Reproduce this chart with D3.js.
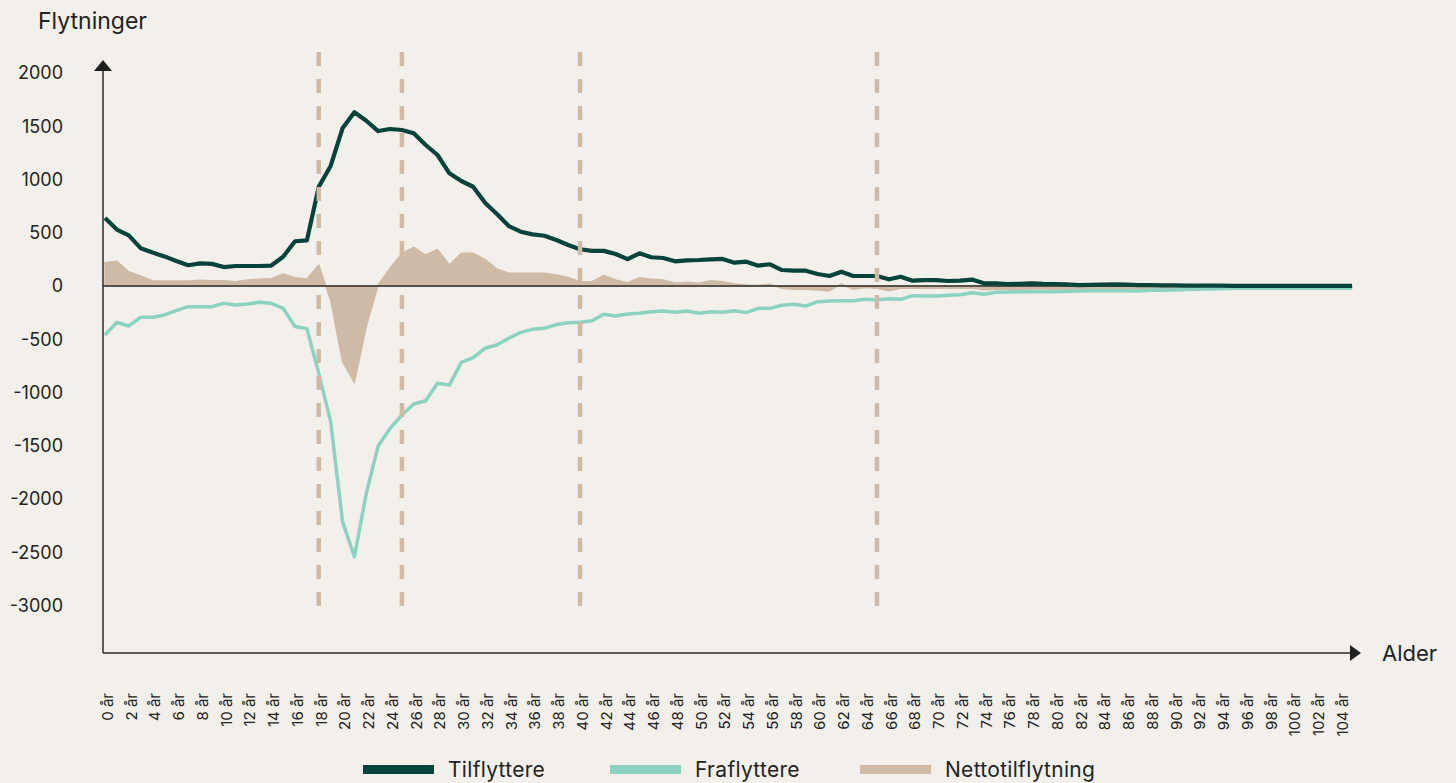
<!DOCTYPE html>
<html>
<head>
<meta charset="utf-8">
<script src="https://cdn.jsdelivr.net/npm/d3@7"></script>
<style>
  html, body { margin: 0; padding: 0; background: #f3f0eb; }
  svg { display: block; }
  text { font-family: Inter, "Noto Sans", sans-serif; fill: #222; }
</style>
</head>
<body>
<div id="chart"></div>
<script>
// ages 0..105
var tilflyttere = [
  638, 530, 475, 355, 315, 278, 235, 195, 212, 208,
  178, 188, 188, 188, 192, 275, 420, 428, 932, 1127,
  1481, 1631, 1552, 1455, 1474, 1465, 1434, 1324, 1230, 1058,
  986, 932, 782, 676, 563, 510, 485, 472, 432, 385,
  345, 330, 330, 300, 252, 307, 270, 263, 232, 241,
  244, 250, 254, 219, 228, 191, 204, 150, 144, 144,
  113, 94, 134, 94, 94, 94, 63, 87, 50, 56,
  56, 47, 50, 60, 25, 25, 18, 20, 25, 20,
  19, 15, 9, 10, 12, 16, 12, 9, 8, 6,
  5, 4, 4, 3, 3, 2, 2, 2, 2, 1,
  1, 1, 1, 1, 1, 1
];

var fraflyttere = [
  -460, -341, -376, -294, -294, -272, -232, -194, -194, -194,
  -163, -178, -169, -153, -163, -210, -380, -400, -820, -1274,
  -2213, -2542, -1947, -1502, -1337, -1211, -1108, -1077, -914, -930,
  -717, -673, -585, -554, -491, -435, -407, -397, -362, -345,
  -340, -326, -266, -282, -263, -256, -241, -235, -247, -235,
  -256, -241, -247, -232, -250, -210, -210, -181, -172, -188,
  -147, -141, -138, -138, -125, -131, -119, -125, -91, -94,
  -94, -87, -82, -63, -78, -59, -56, -55, -53, -53,
  -53, -50, -47, -45, -45, -44, -44, -47, -40, -40,
  -38, -33, -30, -28, -25, -22, -22, -20, -20, -20,
  -20, -20, -20, -20, -20, -20
];

var nettotilflytning = [
  219, 232, 134, 94, 50, 47, 47, 47, 53, 50,
  50, 41, 56, 63, 69, 113, 78, 66, 197, -131,
  -711, -908, -380, 10, 166, 307, 363, 291, 344, 197,
  307, 307, 250, 160, 119, 119, 119, 119, 103, 81,
  41, 41, 100, 56, 31, 78, 63, 56, 25, 34,
  25, 50, 41, 19, 9, 6, 16, -22, -31, -31,
  -38, -44, 19, -31, -13, -22, -44, -22, -19, -22,
  -22, -22, -22, -20, -35, -30, -30, -30, -28, -28,
  -30, -30, -28, -25, -25, -25, -25, -25, -22, -22,
  -22, -20, -20, -20, -20, -20, -20, -20, -20, -20,
  -20, -20, -20, -20, -20, -20
];

var yTicks = [2000, 1500, 1000, 500, 0, -500, -1000, -1500, -2000, -2500, -3000];
var xTickAges = d3.range(0, 105, 2);
var markerAges = [18, 25, 40, 65];

var legendItems = [
  { name: 'Tilflyttere', color: '#05433a' },
  { name: 'Fraflyttere', color: '#8cd2c1' },
  { name: 'Nettotilflytning', color: '#cfbba5' }
];

var width = 1456, height = 783;
var axisX = 103, axisY = 653;

var svg = d3.select('#chart').append('svg')
  .attr('width', width)
  .attr('height', height);

svg.append('rect').attr('width', width).attr('height', height).attr('fill', '#f3f0eb');

var x = d3.scaleLinear().domain([0, 105]).range([105, 1352]);
var y = d3.scaleLinear().domain([-3000, 2000]).range([605.5, 73]);

var ages = d3.range(tilflyttere.length);

// net area
var area = d3.area()
  .x(function(d) { return x(d); })
  .y0(y(0))
  .y1(function(d) { return y(nettotilflytning[d]); });

svg.append('path')
  .datum(ages)
  .attr('d', area)
  .attr('fill', '#cfbba5')
  .attr('stroke', '#cfbba5')
  .attr('stroke-width', 1.5)
  .attr('stroke-linejoin', 'round')
  .attr('stroke-linecap', 'round');

// zero line
svg.append('line')
  .attr('x1', axisX).attr('x2', x(105))
  .attr('y1', y(0)).attr('y2', y(0))
  .attr('stroke', '#2b2b2b')
  .attr('stroke-width', 1.5);

function lineFor(values) {
  return d3.line()
    .x(function(d) { return x(d); })
    .y(function(d) { return y(values[d]); });
}

svg.append('path')
  .datum(ages)
  .attr('d', lineFor(fraflyttere))
  .attr('fill', 'none')
  .attr('stroke', '#8cd2c1')
  .attr('stroke-width', 3.5)
  .attr('stroke-linejoin', 'round');

svg.append('path')
  .datum(ages)
  .attr('d', lineFor(tilflyttere))
  .attr('fill', 'none')
  .attr('stroke', '#05433a')
  .attr('stroke-width', 4.2)
  .attr('stroke-linejoin', 'round');

// dashed age markers
svg.selectAll('line.marker')
  .data(markerAges)
  .enter().append('line')
  .classed('marker', true)
  .attr('x1', function(d) { return x(d); })
  .attr('x2', function(d) { return x(d); })
  .attr('y1', 52)
  .attr('y2', 607)
  .attr('stroke', '#cfbba5')
  .attr('stroke-width', 4.5)
  .attr('stroke-dasharray', '14 13');

// axes lines with arrows
svg.append('line')
  .attr('x1', axisX).attr('x2', axisX)
  .attr('y1', axisY).attr('y2', 68)
  .attr('stroke', '#2b2b2b').attr('stroke-width', 1.5);
svg.append('path')
  .attr('d', 'M' + axisX + ',60 L' + (axisX - 9) + ',71 L' + (axisX + 9) + ',71 Z')
  .attr('fill', '#1f1f1f');

svg.append('line')
  .attr('x1', axisX).attr('x2', 1352)
  .attr('y1', axisY).attr('y2', axisY)
  .attr('stroke', '#2b2b2b').attr('stroke-width', 1.5);
svg.append('path')
  .attr('d', 'M1361,' + axisY + ' L1350,' + (axisY - 8) + ' L1350,' + (axisY + 8) + ' Z')
  .attr('fill', '#1f1f1f');

// y axis labels
var yAxis = d3.axisLeft(y).tickValues(yTicks).tickSize(0).tickPadding(40)
  .tickFormat(function(d) { return String(d); });
var gy = svg.append('g').attr('transform', 'translate(' + axisX + ',0)').call(yAxis);
gy.select('.domain').remove();
gy.selectAll('text')
  .style('font-family', 'Inter, "Noto Sans", sans-serif')
  .style('font-size', '18px')
  .attr('fill', '#222');

// x axis labels (rotated)
var xAxis = d3.axisBottom(x).tickValues(xTickAges).tickSize(0)
  .tickFormat(function(d) { return d + ' år'; });
var gx = svg.append('g').attr('transform', 'translate(0,693)').call(xAxis);
gx.select('.domain').remove();
gx.selectAll('text')
  .attr('x', 0)
  .attr('y', 2)
  .attr('dy', '0.35em')
  .attr('transform', 'rotate(-90)')
  .style('text-anchor', 'end')
  .style('font-family', 'Inter, "Noto Sans", sans-serif')
  .style('font-size', '15px')
  .attr('fill', '#333');

// titles
svg.append('text')
  .attr('x', 38).attr('y', 29)
  .style('font-size', '23px')
  .text('Flytninger');

svg.append('text')
  .attr('x', 1382).attr('y', axisY + 8)
  .style('font-size', '22px')
  .text('Alder');

// legend
var legendX = [363, 610, 860];
var legend = svg.selectAll('g.legend')
  .data(legendItems)
  .enter().append('g')
  .classed('legend', true)
  .attr('transform', function(d, i) { return 'translate(' + legendX[i] + ',0)'; });

legend.append('rect')
  .attr('x', 0).attr('y', 765)
  .attr('width', 71).attr('height', 9)
  .attr('fill', function(d) { return d.color; });

legend.append('text')
  .attr('x', 85).attr('y', 777)
  .style('font-family', 'Inter, "Noto Sans", sans-serif')
  .style('font-size', '21px')
  .style('letter-spacing', '0.3px')
  .text(function(d) { return d.name; });
</script>
</body>
</html>
